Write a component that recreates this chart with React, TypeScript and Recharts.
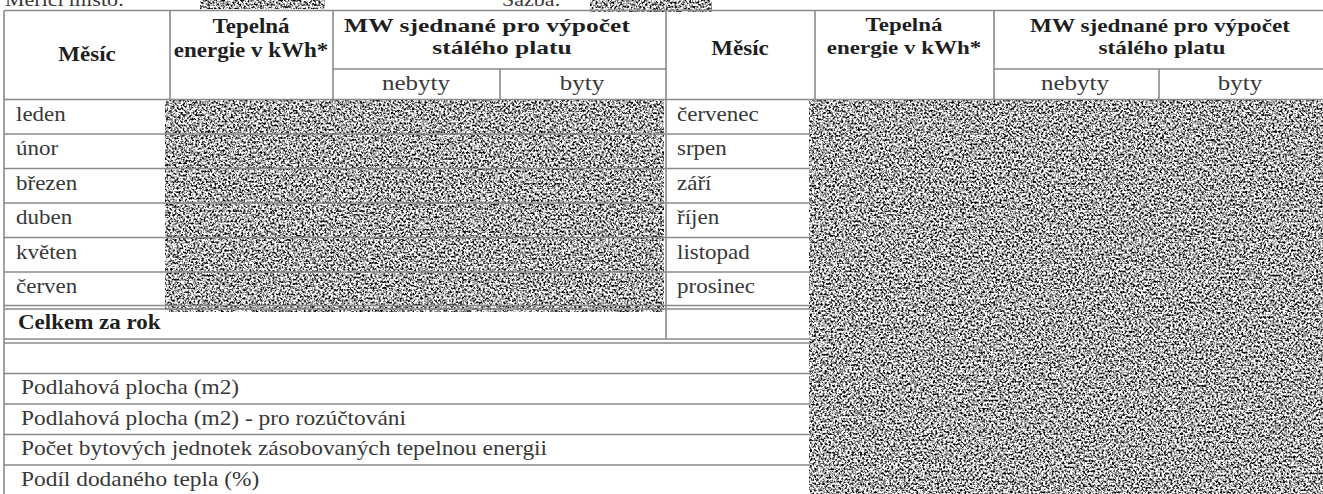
import { ComposedChart, XAxis, YAxis, Scatter, ReferenceLine, ReferenceArea } from "recharts";

// texts of the form
const META_LABELS = ["Měřicí místo:", "Sazba:"];
const HEAD_MONTH = "Měsíc";
const HEAD_ENERGY = ["Tepelná", "energie v kWh*"];
const HEAD_MW = ["MW sjednané pro výpočet", "stálého platu"];
const HEAD_SUB = ["nebyty", "byty"];
const MONTHS_FIRST = ["leden", "únor", "březen", "duben", "květen", "červen"];
const MONTHS_SECOND = ["červenec", "srpen", "září", "říjen", "listopad", "prosinec"];
const TOTAL_LABEL = "Celkem za rok";
const SUMMARY_ROWS = [
  "",
  "Podlahová plocha (m2)",
  "Podlahová plocha (m2) - pro rozúčtováni",
  "Počet bytových jednotek zásobovaných tepelnou energii",
  "Podíl dodaného tepla (%)",
];

// page layout (px)
const W = 1323;
const H = 494;
const COL = { left: 4, month: 170, energy: 333, sub: 500, mid: 666, month2: 815, energy2: 994, sub2: 1159, table: 810 };
const ROW = { top: 10.5, sub: 69, head: 99.5 };
const MONTH_ROWS = [99.5, 134, 168.5, 203, 237.5, 272, 305.5];
const TOTAL_ROW = [309, 339];
const SUMMARY_LINES = [343, 373.5, 404, 434.5, 465, 495];

const LINE = "#8a8a8a";
const FONT = "'Liberation Serif', 'Times New Roman', serif";

// size = width-equivalent font size, h = real glyph height (scan is stretched sideways)
type Item = { x: number; y: number; text: string; bold?: boolean; size?: number; h?: number; anchor?: string };

const items: Item[] = [];
items.push({ x: 5, y: 6, text: META_LABELS[0], size: 22, anchor: "start" });
items.push({ x: 502, y: 6, text: META_LABELS[1], size: 22, anchor: "start" });

items.push({ x: 87, y: 61, text: HEAD_MONTH, bold: true, h: 21 });
items.push({ x: 251, y: 33, text: HEAD_ENERGY[0], bold: true, h: 20.5 });
items.push({ x: 251, y: 57, text: HEAD_ENERGY[1], bold: true, h: 20.5 });
items.push({ x: 487, y: 32, text: HEAD_MW[0], bold: true, size: 25.5, h: 19.5 });
items.push({ x: 502, y: 54, text: HEAD_MW[1], bold: true, size: 25.5, h: 19.5 });
items.push({ x: 416, y: 90, text: HEAD_SUB[0], size: 25, h: 21.5 });
items.push({ x: 582, y: 90, text: HEAD_SUB[1], size: 25, h: 21.5 });

items.push({ x: 740, y: 55, text: HEAD_MONTH, bold: true, h: 21 });
items.push({ x: 904, y: 31, text: HEAD_ENERGY[0], bold: true, h: 19.5 });
items.push({ x: 904, y: 54, text: HEAD_ENERGY[1], bold: true, h: 19.5 });
items.push({ x: 1160, y: 32, text: HEAD_MW[0], bold: true, size: 23.2, h: 19 });
items.push({ x: 1162, y: 54, text: HEAD_MW[1], bold: true, size: 23.2, h: 19 });
items.push({ x: 1075, y: 90, text: HEAD_SUB[0], size: 25, h: 21.5 });
items.push({ x: 1240, y: 90, text: HEAD_SUB[1], size: 25, h: 21.5 });

MONTHS_FIRST.forEach((m, i) => items.push({ x: 16, y: MONTH_ROWS[i] + 21, text: m, anchor: "start" }));
MONTHS_SECOND.forEach((m, i) => items.push({ x: 677, y: MONTH_ROWS[i] + 21, text: m, anchor: "start" }));
items.push({ x: 18, y: TOTAL_ROW[0] + 19.5, text: TOTAL_LABEL, bold: true, anchor: "start", h: 20 });
SUMMARY_ROWS.forEach((r, i) => {
  if (r) items.push({ x: 21, y: SUMMARY_LINES[i] + 20.5, text: r, anchor: "start", size: 23.4 });
});

// grid segments [x1, y1, x2, y2]
const segments: number[][] = [];
segments.push([COL.left, ROW.top, W, ROW.top]);
segments.push([COL.energy, ROW.sub, COL.mid, ROW.sub]);
segments.push([COL.energy2, ROW.sub, W, ROW.sub]);
segments.push([COL.left, ROW.head, W, ROW.head]);
[COL.month, COL.energy, COL.mid, COL.month2, COL.energy2].forEach((x) => segments.push([x, ROW.top, x, ROW.head]));
[COL.sub, COL.sub2].forEach((x) => segments.push([x, ROW.sub, x, ROW.head]));
segments.push([COL.left, ROW.top, COL.left, H]);
segments.push([COL.mid, ROW.head, COL.mid, TOTAL_ROW[1]]);
MONTH_ROWS.slice(1).forEach((y) => {
  segments.push([COL.left, y, COL.mid, y]);
  segments.push([COL.mid, y, COL.table, y]);
});
segments.push([COL.left, TOTAL_ROW[0], COL.table, TOTAL_ROW[0]]);
segments.push([COL.left, TOTAL_ROW[1], COL.table, TOTAL_ROW[1]]);
SUMMARY_LINES.forEach((y) => segments.push([COL.left, y, COL.table, y]));

// redacted (scanned noise) areas [x1, y1, x2, y2]
const NOISE = [
  [200, 0, 325, 9],
  [590, 0, 712, 12],
  [165, 100, 664, 312],
  [809, 100, W, H],
];

const TextMark = (props: any) => {
  const { cx, cy, payload } = props;
  const size = payload.size || 23;
  const h = payload.h || size / 1.15;
  return (
    <text
      transform={`translate(${cx},${cy}) scale(${(size / h).toFixed(3)},1)`}
      x={0}
      y={0}
      textAnchor={payload.anchor || "middle"}
      fontFamily={FONT}
      fontSize={h}
      fontWeight={payload.bold ? 700 : 400}
      fill={payload.bold ? "#1f1f1f" : "#383838"}
    >
      {payload.text}
    </text>
  );
};

const NoiseRect = (props: any) => {
  const { x, y, width, height } = props;
  return <rect x={x} y={y} width={width} height={height} fill="#fff" filter="url(#scanNoise)" />;
};

export default function App() {
  return (
    <div style={{ position: "fixed", left: 0, top: 0, width: W, height: H, background: "#fff" }}>
      <ComposedChart width={W} height={H} data={items} margin={{ top: 0, right: 0, bottom: 0, left: 0 }}>
        <defs>
          <filter
            id="scanNoise"
            x="0"
            y="0"
            width="1"
            height="1"
            filterUnits="objectBoundingBox"
            colorInterpolationFilters="sRGB"
          >
            <feTurbulence type="fractalNoise" baseFrequency="0.48" numOctaves={2} seed={7} />
            <feColorMatrix
              type="matrix"
              values="3.1 0 0 0 -0.88  3.1 0 0 0 -0.88  3.1 0 0 0 -0.88  0 0 0 0 1"
            />
            <feGaussianBlur stdDeviation="0.4" />
          </filter>
        </defs>
        <XAxis type="number" dataKey="x" domain={[0, W]} hide allowDataOverflow />
        <YAxis type="number" dataKey="y" domain={[0, H]} reversed hide allowDataOverflow />
        {segments.map((s, i) => (
          <ReferenceLine
            key={`l${i}`}
            segment={[{ x: s[0], y: s[1] }, { x: s[2], y: s[3] }]}
            stroke={LINE}
            strokeWidth={1.6}
            ifOverflow="visible"
          />
        ))}
        {NOISE.map((n, i) => (
          <ReferenceArea
            key={`n${i}`}
            x1={n[0]}
            y1={n[1]}
            x2={n[2]}
            y2={n[3]}
            ifOverflow="visible"
            shape={NoiseRect}
          />
        ))}
        <Scatter data={items} dataKey="y" shape={TextMark} isAnimationActive={false} />
      </ComposedChart>
    </div>
  );
}
